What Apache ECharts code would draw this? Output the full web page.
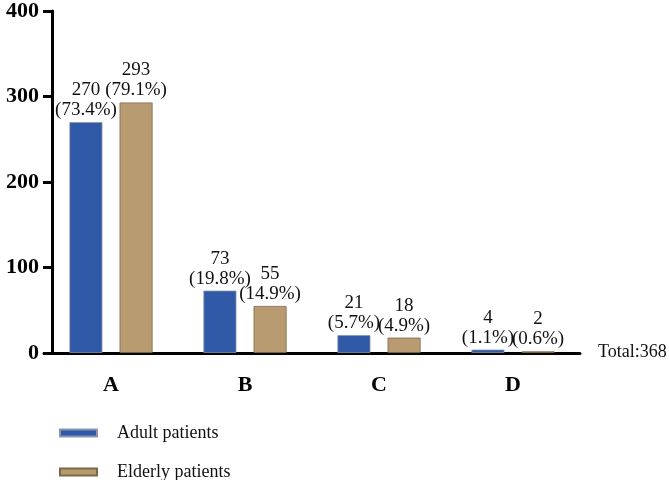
<!DOCTYPE html>
<html>
<head>
<meta charset="utf-8">
<script src="https://cdn.jsdelivr.net/npm/echarts@6/dist/echarts.min.js"></script>
<style>html,body{margin:0;padding:0;background:#fff;}#main{width:669px;height:480px;}</style>
</head>
<body>
<div id="main"></div>
<script>
var categories = ['A', 'B', 'C', 'D'];
var adultValues = [270, 73, 21, 4];
var adultPercents = ['73.4%', '19.8%', '5.7%', '1.1%'];
var elderlyValues = [293, 55, 18, 2];
var elderlyPercents = ['79.1%', '14.9%', '4.9%', '0.6%'];
var yTicks = [0, 100, 200, 300, 400];
var totalText = 'Total:368';

var serif = "'Liberation Serif', 'Times New Roman', serif";
var chart = echarts.init(document.getElementById('main'));

function labelFor(percents) {
  return {
    show: true,
    position: 'top',
    distance: 2,
    fontFamily: serif,
    fontSize: 19,
    lineHeight: 20,
    color: '#111',
    formatter: function (p) { return p.value + '\n(' + percents[p.dataIndex] + ')'; }
  };
}

chart.setOption({
  animation: false,
  title: {
    text: totalText,
    left: 598,
    top: 343,
    padding: 0,
    textStyle: { fontFamily: serif, fontSize: 18, fontWeight: 'normal', color: '#111', lineHeight: 18 }
  },
  legend: {
    orient: 'vertical',
    left: 59,
    top: 424,
    height: 60,
    padding: 0,
    icon: 'rect',
    itemWidth: 37,
    itemHeight: 7,
    itemGap: 21,
    textStyle: { fontFamily: serif, fontSize: 18, lineHeight: 16, color: '#111', padding: [0, 0, 0, 15] },
    data: ['Adult patients', 'Elderly patients']
  },
  grid: { left: 44, width: 536, top: 10, bottom: 127 },
  xAxis: {
    type: 'category',
    data: categories,
    axisLine: { lineStyle: { color: '#000', width: 3 } },
    axisTick: { alignWithLabel: true, length: 9, lineStyle: { color: '#000', width: 3 } },
    axisLabel: { margin: 21, fontFamily: serif, fontSize: 22, fontWeight: 'bold', color: '#000' }
  },
  yAxis: {
    type: 'value',
    min: yTicks[0],
    max: yTicks[yTicks.length - 1],
    interval: 100,
    offset: -8,
    splitLine: { show: false },
    axisLine: { show: true, lineStyle: { color: '#000', width: 3 } },
    axisTick: { show: true, length: 9, lineStyle: { color: '#000', width: 3 } },
    axisLabel: { margin: 13, fontFamily: serif, fontSize: 22, fontWeight: 'bold', color: '#000' }
  },
  series: [
    {
      name: 'Adult patients',
      type: 'bar',
      data: adultValues,
      barWidth: 33,
      barGap: '52%',
      itemStyle: { color: '#2F58A6', borderColor: '#8a96ad', borderWidth: 0.8 },
      label: labelFor(adultPercents)
    },
    {
      name: 'Elderly patients',
      type: 'bar',
      data: elderlyValues,
      barWidth: 33,
      itemStyle: { color: '#B89B70', borderColor: '#7d6848', borderWidth: 0.8 },
      label: labelFor(elderlyPercents)
    }
  ]
});
</script>
</body>
</html>
